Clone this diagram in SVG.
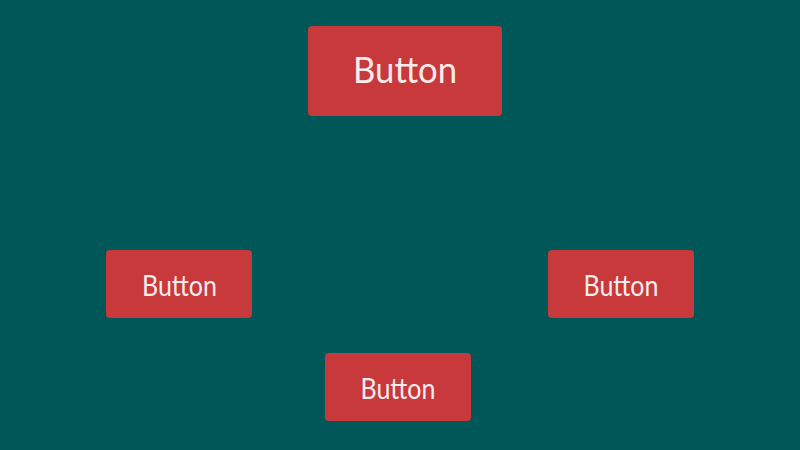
<svg xmlns="http://www.w3.org/2000/svg" width="800" height="450" viewBox="0 0 800 450">
<style>
.btn{fill:#c8393c;}
.lbl{fill:#f7ecec;font-family:Lato,"Noto Sans","DejaVu Sans",sans-serif;text-anchor:middle;}
.big{font-size:36px;}
.small{font-size:28px;}
</style>
<rect width="800" height="450" fill="#005757"/>
<g id="node-top">
<rect class="btn" x="308" y="26" width="194" height="90" rx="4"/>
<text class="lbl big" x="405" y="83" textLength="104" lengthAdjust="spacingAndGlyphs">Button</text>
</g>
<g id="node-left">
<rect class="btn" x="106" y="250" width="146" height="68" rx="4"/>
<text class="lbl small" x="179.5" y="296" textLength="75" lengthAdjust="spacingAndGlyphs">Button</text>
</g>
<g id="node-right">
<rect class="btn" x="548" y="250" width="146" height="68" rx="4"/>
<text class="lbl small" x="621" y="296" textLength="75" lengthAdjust="spacingAndGlyphs">Button</text>
</g>
<g id="node-bottom">
<rect class="btn" x="325" y="353" width="146" height="68" rx="4"/>
<text class="lbl small" x="398" y="399" textLength="75" lengthAdjust="spacingAndGlyphs">Button</text>
</g>
<g id="connectors"></g>
</svg>
